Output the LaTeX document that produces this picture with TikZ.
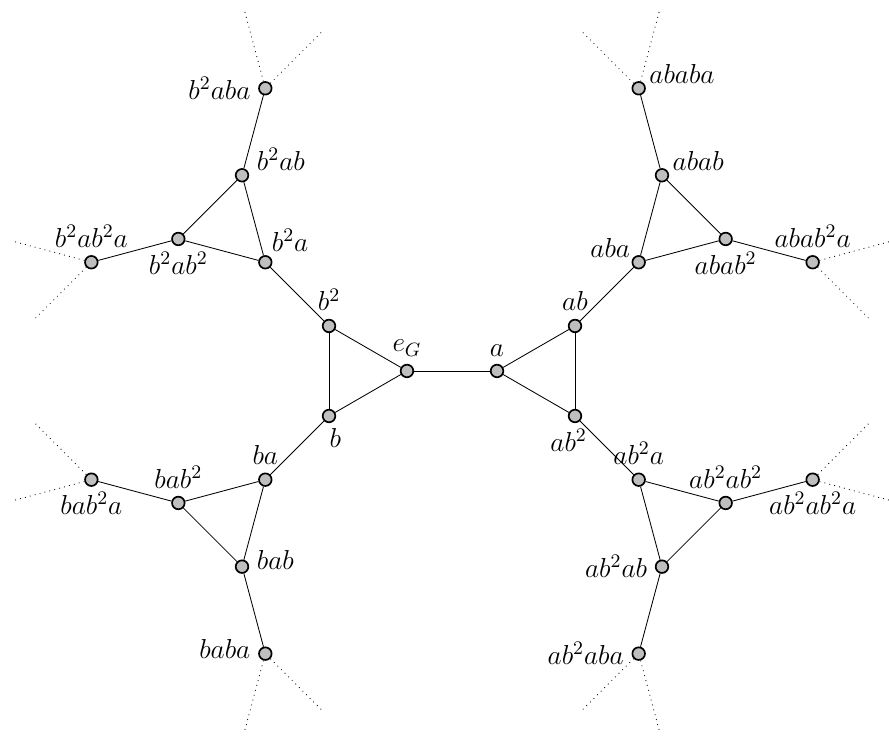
\documentclass[tikz,border=0pt]{standalone}
\usepackage{fix-cm}
\usetikzlibrary{positioning}
\tikzset{vtx/.style={circle,draw,fill=gray!50,line width=0.8pt,minimum size=0.21cm,inner sep=0pt},
  lbl/.style={font=\fontsize{13}{15}\selectfont,inner sep=2.5pt}}

\begin{document}
\begin{tikzpicture}
\useasboundingbox (-7.53,-6.15) rectangle (7.28,6.18);

% vertices: left half
\foreach \n/\x/\y in {eG/-0.75/0, b2/-2.049/0.75, b/-2.049/-0.75,
  b2a/-3.110/1.811, b2ab/-3.498/3.260, b2ab2/-4.559/2.199, b2aba/-3.110/4.709, b2ab2a/-6.008/1.811,
  ba/-3.110/-1.811, bab/-3.498/-3.260, bab2/-4.559/-2.199, baba/-3.110/-4.709, bab2a/-6.008/-1.811} {
\node[vtx] (\n) at (\x,\y) {};
}
% vertices: right half
\foreach \n/\x/\y in {a/0.75/0, ab/2.049/0.75, ab2/2.049/-0.75,
  aba/3.110/1.811, abab/3.498/3.260, abab2/4.559/2.199, ababa/3.110/4.709, abab2a/6.008/1.811,
  ab2a/3.110/-1.811, ab2ab/3.498/-3.260, ab2ab2/4.559/-2.199, ab2aba/3.110/-4.709, ab2ab2a/6.008/-1.811} {
\node[vtx] (\n) at (\x,\y) {};
}

\draw (eG) -- (a);
\foreach \u/\v in {eG/b2, eG/b, b2/b, b2/b2a, b2a/b2ab, b2a/b2ab2, b2ab/b2ab2, b2ab/b2aba, b2ab2/b2ab2a,
  b/ba, ba/bab, ba/bab2, bab/bab2, bab/baba, bab2/bab2a,
  a/ab, a/ab2, ab/ab2, ab/aba, aba/abab, aba/abab2, abab/abab2, abab/ababa, abab2/abab2a,
  ab2/ab2a, ab2a/ab2ab, ab2a/ab2ab2, ab2ab/ab2ab2, ab2ab/ab2aba, ab2ab2/ab2ab2a} {
\draw (\u) -- (\v);
}

% the tree goes on
\foreach \n/\d in {b2aba/75, b2ab2a/195, baba/285, bab2a/165,
  ababa/105, abab2a/345, ab2aba/255, ab2ab2a/15} {
\draw[dotted] (\n) -- ++(\d+30:1.35);
\draw[dotted] (\n) -- ++(\d-30:1.35);
}

% labels
\node[lbl, above=1pt of eG] (l-eG) {$e_G$};
\node[lbl, above=1pt of a] (l-a) {$a$};
\node[lbl, above=1pt of b2] (l-b2) {$b^2$};
\node[lbl, below=0pt of b, xshift=3pt] (l-b) {$b$};
\node[lbl, above=1pt of ab] (l-ab) {$ab$};
\node[lbl, below=0pt of ab2, xshift=-3pt] (l-ab2) {$ab^2$};
\node[lbl, above right=0pt and -2pt of b2a] (l-b2a) {$b^2a$};
\node[lbl, above right=-3pt and 2pt of b2ab] (l-b2ab) {$b^2ab$};
\node[lbl, below=0pt of b2ab2] (l-b2ab2) {$b^2ab^2$};
\node[lbl, left=1pt of b2aba] (l-b2aba) {$b^2aba$};
\node[lbl, above=1pt of b2ab2a] (l-b2ab2a) {$b^2ab^2a$};
\node[lbl, above=1pt of ba] (l-ba) {$ba$};
\node[lbl, right=1pt of bab, yshift=3pt] (l-bab) {$bab$};
\node[lbl, above=1pt of bab2] (l-bab2) {$bab^2$};
\node[lbl, left=1pt of baba, yshift=2pt] (l-baba) {$baba$};
\node[lbl, below=0pt of bab2a] (l-bab2a) {$bab^2a$};
\node[lbl, above left=-3pt and -1pt of aba] (l-aba) {$aba$};
\node[lbl, above right=-3pt and 0pt of abab] (l-abab) {$abab$};
\node[lbl, above right=-3pt and 0pt of ababa] (l-ababa) {$ababa$};
\node[lbl, below=0pt of abab2] (l-abab2) {$abab^2$};
\node[lbl, above=1pt of abab2a] (l-abab2a) {$abab^2a$};
\node[lbl, above=1pt of ab2a] (l-ab2a) {$ab^2a$};
\node[lbl, above=1pt of ab2ab2] (l-ab2ab2) {$ab^2ab^2$};
\node[lbl, left=1pt of ab2ab] (l-ab2ab) {$ab^2ab$};
\node[lbl, left=1pt of ab2aba] (l-ab2aba) {$ab^2aba$};
\node[lbl, below=0pt of ab2ab2a] (l-ab2ab2a) {$ab^2ab^2a$};
\end{tikzpicture}
\end{document}
